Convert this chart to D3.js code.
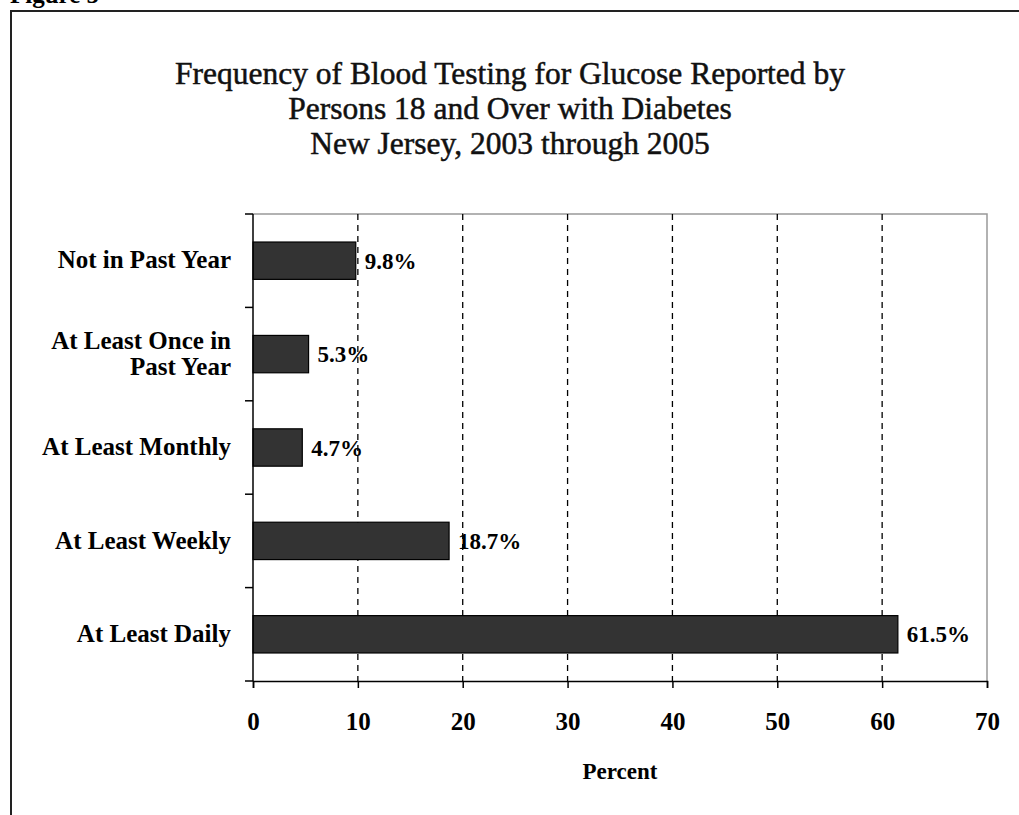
<!DOCTYPE html>
<html>
<head>
<meta charset="utf-8">
<script src="https://cdn.jsdelivr.net/npm/d3@7"></script>
<style>
  body { margin: 0; background: #fff; }
  svg { display: block; }
</style>
</head>
<body>
<div id="chart"></div>
<script>
// Data
const categories = ["Not in Past Year", "At Least Once in Past Year", "At Least Monthly", "At Least Weekly", "At Least Daily"];
const values = [9.8, 5.3, 4.7, 18.7, 61.5];
const xTicks = [0, 10, 20, 30, 40, 50, 60, 70];
const titleLines = [
  "Frequency of Blood Testing for Glucose Reported by",
  "Persons 18 and Over with Diabetes",
  "New Jersey, 2003 through 2005"
];

// Layout
const DIMENSIONS = {
  width: 1019,
  height: 815,
  plot: {left: 253, right: 987, top: 214, bottom: 681}
};
const FONT = "'Liberation Serif', 'Times New Roman', serif";

const data = categories.map((c, i) => ({cat: c, value: values[i]}));

const svg = d3.select("#chart")
  .append("svg")
  .attr("width", DIMENSIONS.width)
  .attr("height", DIMENSIONS.height)
  .style("font-family", FONT);

// Page frame and the "Figure 5" caption, clipped at the top as in the scan
svg.append("text")
  .attr("x", 10)
  .attr("y", 3)
  .attr("font-size", "25px")
  .attr("font-weight", "bold")
  .text("Figure 5");

svg.append("path")
  .attr("d", `M11,${DIMENSIONS.height} V11 H${DIMENSIONS.width}`)
  .attr("fill", "none")
  .attr("stroke", "#222")
  .attr("stroke-width", 2);

// Title
svg.append("g")
  .selectAll("text")
  .data(titleLines)
  .join("text")
  .attr("x", 510)
  .attr("y", (d, i) => 84 + i * 35)
  .attr("text-anchor", "middle")
  .attr("font-size", "31.5px")
  .attr("fill", "#111")
  .attr("stroke", "#111")
  .attr("stroke-width", 0.5)
  .text(d => d);

// Scales
const x = d3.scaleLinear()
  .domain([0, 70])
  .range([DIMENSIONS.plot.left, DIMENSIONS.plot.right]);

const y = d3.scaleBand()
  .domain(categories)
  .range([DIMENSIONS.plot.top, DIMENSIONS.plot.bottom])
  .paddingInner(0.6)
  .paddingOuter(0.3);

// Plot border (top and right are grey)
svg.append("path")
  .attr("d", `M${x(0)},${y.range()[0]} H${x(70)} V${y.range()[1]}`)
  .attr("fill", "none")
  .attr("stroke", "#999")
  .attr("stroke-width", 1.5);

// Dashed gridlines
svg.append("g")
  .selectAll("line")
  .data(xTicks.filter(t => t > 0 && t < 70))
  .join("line")
  .attr("x1", d => x(d))
  .attr("x2", d => x(d))
  .attr("y1", y.range()[0])
  .attr("y2", y.range()[1])
  .attr("stroke", "#000")
  .attr("stroke-width", 1.3)
  .attr("stroke-dasharray", "6,5");

// Bars
svg.append("g")
  .selectAll("rect")
  .data(data)
  .join("rect")
  .attr("x", x(0))
  .attr("y", d => y(d.cat))
  .attr("width", d => x(d.value) - x(0))
  .attr("height", y.bandwidth())
  .attr("fill", "#333")
  .attr("stroke", "#000")
  .attr("stroke-width", 1.2);

// Value labels
svg.append("g")
  .selectAll("text")
  .data(data)
  .join("text")
  .attr("x", d => x(d.value) + 9)
  .attr("y", d => y(d.cat) + y.bandwidth() / 2)
  .attr("dy", "0.35em")
  .attr("font-size", "23px")
  .attr("font-weight", "bold")
  .text(d => d.value.toFixed(1) + "%");

// X axis
const xAxis = svg.append("g")
  .attr("transform", `translate(0,${DIMENSIONS.plot.bottom})`)
  .call(d3.axisBottom(x).tickValues(xTicks).tickSize(7).tickPadding(24).tickFormat(d3.format("d")));
xAxis.select(".domain").attr("stroke", "#000").attr("stroke-width", 1.5);
xAxis.selectAll(".tick line").attr("stroke", "#000").attr("stroke-width", 1.5);
xAxis.selectAll(".tick text")
  .attr("font-family", FONT)
  .attr("font-size", "25px")
  .attr("font-weight", "bold")
  .attr("fill", "#000");

// Y axis line with ticks at category boundaries
svg.append("line")
  .attr("x1", x(0)).attr("x2", x(0))
  .attr("y1", y.range()[0]).attr("y2", y.range()[1])
  .attr("stroke", "#000")
  .attr("stroke-width", 1.5);

const boundaries = d3.range(categories.length + 1).map(i => y.range()[0] + i * y.step());
svg.append("g")
  .selectAll("line")
  .data(boundaries)
  .join("line")
  .attr("x1", x(0) - 8).attr("x2", x(0))
  .attr("y1", d => d).attr("y2", d => d)
  .attr("stroke", "#000")
  .attr("stroke-width", 1.5);

// Category labels, wrapping the long one into separate lines
const wrap = {"At Least Once in Past Year": ["At Least Once in", "Past Year"]};
const LINE_GAP = 26;
const labelLines = data.flatMap(d => {
  const lines = wrap[d.cat] || [d.cat];
  const mid = y(d.cat) + y.bandwidth() / 2;
  return lines.map((line, i) => ({text: line, y: mid + (i - (lines.length - 1) / 2) * LINE_GAP}));
});
svg.append("g")
  .selectAll("text")
  .data(labelLines)
  .join("text")
  .attr("x", 231)
  .attr("y", d => d.y - 1)
  .attr("dy", "0.35em")
  .attr("text-anchor", "end")
  .attr("font-size", "25px")
  .attr("font-weight", "bold")
  .text(d => d.text);

// Axis title
svg.append("text")
  .attr("x", (x(0) + x(70)) / 2)
  .attr("y", 779)
  .attr("text-anchor", "middle")
  .attr("font-size", "23px")
  .attr("font-weight", "bold")
  .text("Percent");
</script>
</body>
</html>
